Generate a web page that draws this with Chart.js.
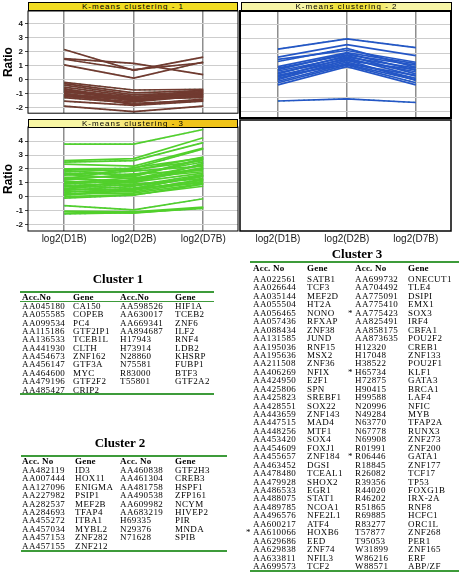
<!DOCTYPE html>
<html>
<head>
<meta charset="utf-8">
<script src="https://cdn.jsdelivr.net/npm/chart.js@4.4.1/dist/chart.umd.min.js"></script>
<style>
  body { margin: 0; background: #fff; }
  #page { position: relative; width: 459px; height: 573px; overflow: hidden; background: #fff; }
  canvas { position: absolute; }
  .bar { position: absolute; box-sizing: border-box; border: 1px solid #000; height: 9px;
         font: 8px "Liberation Sans", Arial, sans-serif; letter-spacing: 1px; line-height: 7px;
         text-align: center; color: #000; }
  .ttl { position: absolute; font: bold 13px "Liberation Serif", "Times New Roman", serif; text-align: center; color: #000; }
  .cell { position: absolute; font: 9px "Liberation Serif", "Times New Roman", serif; line-height: 10px; height: 10px;
          white-space: nowrap; color: #000; letter-spacing: 0.4px; }
  .hd { font-weight: bold; letter-spacing: 0.2px; }
  .gl { position: absolute; background: #3d9b3a; }
</style>
</head>
<body>
<div id="page">
  <canvas id="c1" width="240" height="120" style="left:0;top:0"></canvas>
  <canvas id="c2" width="218" height="120" style="left:238px;top:0"></canvas>
  <canvas id="c3" width="240" height="135" style="left:0;top:119px"></canvas>
  <canvas id="c4" width="218" height="135" style="left:238px;top:119px"></canvas>
  <div class="bar" style="left:28px;top:2px;width:210px;background:#f1dc22">K-means clustering - 1</div>
  <div class="bar" style="left:241px;top:2px;width:211px;background:linear-gradient(to right,#f7f5a6 30%,#f0e23a 45%,#f0e23a 60%,#f7f5a6 75%)">K-means clustering - 2</div>
  <div class="bar" style="left:28px;top:119px;width:210px;background:linear-gradient(to right,#f8f6a4 35%,#f0c419 70%)">K-means clustering - 3</div>
</div>
<script>
// time points and axis ticks
const xLabels = ['log2(D1B)', 'log2(D2B)', 'log2(D7B)'];
const yTicks = [-2, -1, 0, 1, 2, 3, 4];

// cluster 1 profiles: [D1B, D2B, D7B]
const cluster1 = [
  [2.15, 0.65, 1.6], [1.5, 1.15, 0.35], [1.45, 0.7, 1.2], [1.05, 0.1, 1.25],
  [-0.2, -0.75, -0.7], [-0.3, -0.95, -0.8], [-0.4, -1.1, -0.9], [-0.55, -1.2, -1.0],
  [-0.7, -1.3, -0.75], [-0.8, -1.4, -1.1], [-0.9, -1.25, -1.2], [-1.0, -1.5, -0.95],
  [-1.1, -1.35, -1.3], [-1.2, -1.6, -1.15], [-0.85, -1.45, -1.25], [-1.3, -1.7, -1.5],
  [-1.55, -1.85, -1.55], [-1.9, -2.3, -1.9], [-1.0, -1.8, -1.4], [-0.65, -1.55, -1.05],
  [-1.15, -1.45, -0.85]
];

// cluster 2 profiles
const cluster2 = [
  [2.3, 3.0, 2.4], [1.75, 2.6, 1.85], [1.6, 2.2, 1.4], [1.45, 2.35, 1.05],
  [1.1, 2.05, 1.3], [1.0, 1.9, 1.2], [0.9, 2.0, 0.85], [0.8, 1.75, 1.0],
  [0.7, 1.6, 0.75], [0.6, 1.85, 0.6], [0.5, 1.5, 0.9], [0.4, 1.7, 0.45],
  [0.3, 1.4, 0.3], [0.2, 1.55, 0.15], [0.1, 1.3, 0.5], [0.0, 1.2, 0.0],
  [-0.15, 1.1, -0.15], [0.45, 1.25, 0.2], [-1.25, -1.1, -1.35]
];

// cluster 3 profiles
const cluster3 = [
  [3.8, 3.8, 4.85], [2.6, 2.75, 4.25], [2.5, 2.6, 3.9], [2.35, 2.2, 3.5],
  [2.0, 2.05, 3.45], [1.95, 1.9, 2.85], [1.9, 1.5, 2.75], [1.8, 1.95, 2.6],
  [1.7, 1.6, 2.5], [1.6, 1.3, 2.3], [1.55, 1.85, 2.2], [1.4, 1.45, 2.7],
  [1.3, 1.1, 2.0], [1.2, 1.65, 1.9], [1.1, 1.0, 2.4], [1.0, 1.35, 1.8],
  [0.95, 0.8, 1.6], [0.9, 1.2, 2.1], [0.8, 0.6, 1.5], [0.7, 1.05, 1.7],
  [0.6, 0.9, 1.3], [0.55, 0.5, 1.2], [0.45, 0.75, 1.45], [0.4, 0.35, 1.1],
  [0.3, 0.6, 1.0], [0.2, 0.25, 0.95], [0.1, 0.45, 1.25], [0.0, 0.15, 0.75],
  [-0.1, 0.1, 0.9], [0.15, 0.55, 1.55], [0.5, 1.25, 2.05], [1.25, 2.1, 2.8],
  [-0.65, -0.95, -0.15], [-1.05, -1.1, -0.75], [-1.25, -1.15, -0.85], [-1.1, -1.2, -0.8]
];

// black box round the plot area
const frame = {
  id: 'frame',
  afterDraw(chart, args, opts) {
    const a = chart.chartArea, ctx = chart.ctx;
    ctx.save();
    ctx.strokeStyle = '#000';
    ctx.lineWidth = opts.w || 1;
    ctx.strokeRect(a.left, a.top, a.right - a.left, a.bottom - a.top);
    ctx.restore();
  }
};

function lines(rows, base, over, every) {
  const ds = [];
  rows.forEach(r => {
    ds.push({ data: r.map((v, j) => ({ x: j, y: v })), borderColor: base, borderWidth: 1.7, pointRadius: 0 });
  });
  rows.forEach((r, i) => {
    if (i % every != 0) return;
    ds.push({ data: r.map((v, j) => ({ x: j, y: v })), borderColor: over, borderWidth: 1.2, borderDash: [2, 3], pointRadius: 0 });
  });
  return ds;
}

function panel(id, datasets, o) {
  return new Chart(document.getElementById(id), {
    type: 'line',
    data: { datasets: datasets },
    options: {
      responsive: false,
      animation: false,
      events: [],
      layout: { padding: o.pad },
      plugins: { legend: { display: false }, tooltip: { enabled: false }, frame: { w: o.fw } },
      scales: {
        x: {
          type: 'linear', min: o.xmin, max: o.xmax,
          afterBuildTicks: a => { a.ticks = xLabels.map((l, i) => ({ value: i })); },
          ticks: {
            display: !!o.xlab, padding: 2, color: '#1a1a1a',
            font: { family: 'Liberation Sans, Arial', size: 10 },
            callback: (v) => xLabels[v]
          },
          grid: { display: !o.empty, color: '#8e8e8e', lineWidth: 1.5, drawTicks: false },
          border: { display: false }
        },
        y: {
          min: o.ymin, max: o.ymax,
          afterBuildTicks: a => { a.ticks = yTicks.map(v => ({ value: v })); },
          afterFit: a => { a.width = o.yw; },
          ticks: {
            display: !!o.ylab, padding: 2, color: '#111',
            font: { family: 'Liberation Sans, Arial', size: 8, weight: 'bold' }
          },
          grid: { display: !o.empty, color: '#cdcdcd', lineWidth: 1, drawTicks: !!o.ylab, tickLength: 3, tickColor: '#444' },
          border: { display: false },
          title: {
            display: !!o.ylab, text: 'Ratio', color: '#000', padding: { top: 1, bottom: 0 },
            font: { family: 'Liberation Sans, Arial', size: 12, weight: 'bold' }
          }
        }
      }
    },
    plugins: [frame]
  });
}

panel('c1', lines(cluster1, '#713a30', '#2fa070', 1), {
  pad: { top: 11, right: 2, bottom: 2, left: 0 }, yw: 28, ylab: true,
  xmin: -0.52, xmax: 2.5, ymin: -2.41, ymax: 4.9, fw: 1
});
panel('c2', lines(cluster2, '#2456c6', '#2b9a86', 3), {
  pad: { top: 11, right: 5, bottom: 2, left: 2 }, yw: 0,
  xmin: -0.55, xmax: 2.51, ymin: -2.41, ymax: 4.9, fw: 2
});
panel('c3', lines(cluster3, '#52d02c', '#3b8fcf', 2), {
  pad: { top: 8, right: 2, bottom: 7, left: 0 }, yw: 28, ylab: true, xlab: true,
  xmin: -0.52, xmax: 2.5, ymin: -2.48, ymax: 5.03, fw: 1
});
panel('c4', [], {
  pad: { top: 1, right: 5, bottom: 7, left: 2 }, yw: 0, xlab: true, empty: true,
  xmin: -0.55, xmax: 2.51, ymin: -2.48, ymax: 5.03, fw: 1.5
});

// gene tables
const t1Head = ['Acc.No', 'Gene', 'Acc.No', 'Gene'];
const t1Rows = [
  ['AA045180', 'CA150', 'AA598526', 'HIF1A'], ['AA055585', 'COPEB', 'AA630017', 'TCEB2'],
  ['AA099534', 'PC4', 'AA669341', 'ZNF6'], ['AA115186', 'GTF2IP1', 'AA894687', 'ILF2'],
  ['AA136533', 'TCEB1L', 'H17943', 'RNF4'], ['AA441930', 'CLTH', 'H73914', 'LDB2'],
  ['AA454673', 'ZNF162', 'N28860', 'KHSRP'], ['AA456147', 'GTF3A', 'N75581', 'FUBP1'],
  ['AA464600', 'MYC', 'R83000', 'BTF3'], ['AA479196', 'GTF2F2', 'T55801', 'GTF2A2'],
  ['AA485427', 'CRIP2', '', '']
];
const t2Head = ['Acc. No', 'Gene', 'Acc. No', 'Gene'];
const t2Rows = [
  ['AA482119', 'ID3', 'AA460838', 'GTF2H3'], ['AA007444', 'HOX11', 'AA461304', 'CREB3'],
  ['AA127096', 'ENIGMA', 'AA481758', 'HSPF1'], ['AA227982', 'PSIP1', 'AA490538', 'ZFP161'],
  ['AA282537', 'MEF2B', 'AA609982', 'NCYM'], ['AA284693', 'TFAP4', 'AA683219', 'HIVEP2'],
  ['AA455272', 'ITBA1', 'H69335', 'PIR'], ['AA457034', 'MYBL2', 'N29376', 'MNDA'],
  ['AA457153', 'ZNF282', 'N71628', 'SPIB'], ['AA457155', 'ZNF212', '', '']
];
const t3Rows = [
  ['AA022561', 'SATB1', 'AA699732', 'ONECUT1'], ['AA026644', 'TCF3', 'AA704492', 'TLE4'],
  ['AA035144', 'MEF2D', 'AA775091', 'DSIPI'], ['AA055504', 'HT2A', 'AA775410', 'EMX1'],
  ['AA056465', 'NONO', '*AA775423', 'SOX3'], ['AA057436', 'RFXAP', 'AA825491', 'IRF4'],
  ['AA088434', 'ZNF38', 'AA858175', 'CBFA1'], ['AA131585', 'JUND', 'AA873635', 'POU2F2'],
  ['AA195036', 'RNF15', 'H12320', 'CREB1'], ['AA195636', 'MSX2', 'H17048', 'ZNF133'],
  ['AA211508', 'ZNF36', 'H38522', 'POU2F1'], ['AA406269', 'NFIX', '*H65734', 'KLF1'],
  ['AA424950', 'E2F1', 'H72875', 'GATA3'], ['AA425806', 'SPN', 'H90415', 'BRCA1'],
  ['AA425823', 'SREBF1', 'H99588', 'LAF4'], ['AA428551', 'SOX22', 'N20996', 'NFIC'],
  ['AA443659', 'ZNF143', 'N49284', 'MYB'], ['AA447515', 'MAD4', 'N63770', 'TFAP2A'],
  ['AA448256', 'MTF1', 'N67778', 'RUNX3'], ['AA453420', 'SOX4', 'N69908', 'ZNF273'],
  ['AA454609', 'FOXJ1', 'R01991', 'ZNF200'], ['AA455657', 'ZNF184', '*R06446', 'GATA1'],
  ['AA463452', 'DGSI', 'R18845', 'ZNF177'], ['AA478480', 'TCEAL1', 'R26082', 'TCF17'],
  ['AA479928', 'SHOX2', 'R39356', 'TP53'], ['AA486533', 'EGR1', 'R44020', 'FOXG1B'],
  ['AA488075', 'STAT1', 'R46202', 'IRX-2A'], ['AA489785', 'NCOA1', 'R51865', 'RNF8'],
  ['AA496576', 'NFE2L1', 'R69885', 'HCFC1'], ['AA600217', 'ATF4', 'R83277', 'ORC1L'],
  ['*AA610066', 'HOXB6', 'T57877', 'ZNF268'], ['AA629686', 'EED', 'T95053', 'PER1'],
  ['AA629838', 'ZNF74', 'W31899', 'ZNF165'], ['AA633811', 'NFIL3', 'W86216', 'ERF'],
  ['AA699573', 'TCF2', 'W88571', 'ABP/ZF']
];

const page = document.getElementById('page');
function put(cls, txt, x, y, extra) {
  const s = document.createElement('div');
  s.className = cls;
  s.textContent = txt;
  s.style.left = x + 'px';
  s.style.top = y + 'px';
  if (extra) Object.assign(s.style, extra);
  page.appendChild(s);
  return s;
}
function rule(x, y, w, h) {
  const d = document.createElement('div');
  d.className = 'gl';
  Object.assign(d.style, { left: x + 'px', top: y + 'px', width: w + 'px', height: h + 'px' });
  page.appendChild(d);
}
function table(t) {
  put('ttl', t.title, t.tx - 50, t.ty - 8, { width: '100px' });
  t.lines.forEach(l => rule(t.x, l[0], t.w, l[1]));
  t.head.forEach((h, j) => put('cell hd', h, t.cols[j], t.hy - 5));
  t.rows.forEach((r, i) => {
    const y = t.ry + i * t.rh - 5;
    r.forEach((c, j) => {
      if (!c) return;
      if (c[0] == '*') {
        put('cell', '*', t.cols[j] - 7, y);
        c = c.slice(1);
      }
      put('cell', c, t.cols[j], y);
    });
  });
}

table({ title: 'Cluster 1', tx: 118, ty: 279, x: 20, w: 194, lines: [[291, 2], [301, 1], [393, 2]],
        head: t1Head, hy: 296.5, cols: [22, 73, 120, 175], rows: t1Rows, ry: 306, rh: 8.35 });
table({ title: 'Cluster 2', tx: 120, ty: 443, x: 21, w: 206, lines: [[455, 2], [550, 2]],
        head: t2Head, hy: 461, cols: [22, 75, 120, 175], rows: t2Rows, ry: 470, rh: 8.4 });
table({ title: 'Cluster 3', tx: 357, ty: 254, x: 250, w: 209, lines: [[261, 2], [570, 2]],
        head: t2Head, hy: 268, cols: [253, 307, 355, 408], rows: t3Rows, ry: 279, rh: 8.44 });
</script>
</body>
</html>
